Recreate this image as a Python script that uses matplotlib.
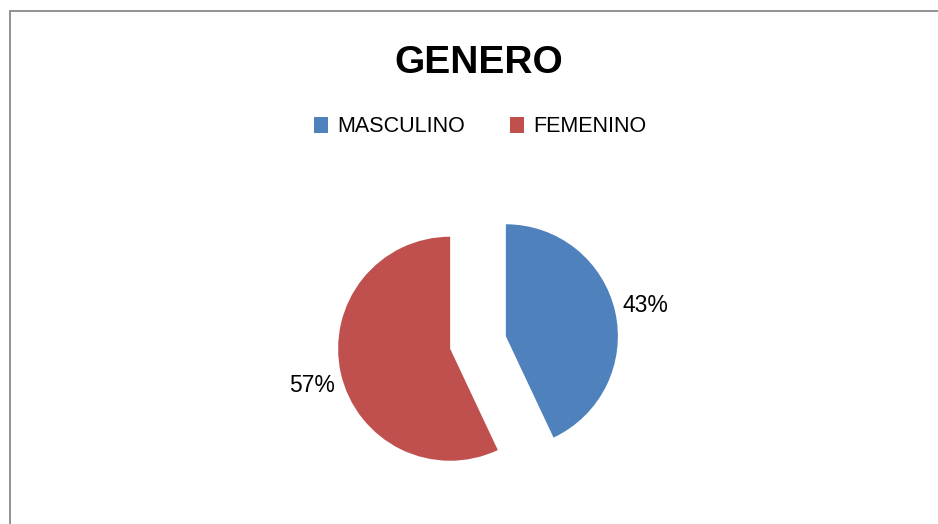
# pie chart de genero (estilo excel, porciones separadas)

import matplotlib
matplotlib.use('Agg')
import matplotlib.pyplot as plt
from matplotlib.patches import Rectangle

categorias = ['MASCULINO', 'FEMENINO']
porcentajes = [43, 57]
colores = ['#4F81BD', '#C0504D']
titulo = 'GENERO'

W, H = 938, 524
plt.rcParams['font.family'] = ['Liberation Sans', 'DejaVu Sans']

fig = plt.figure(figsize=(W / 100, H / 100), dpi=100)

# marco gris del grafico (solo se ve arriba y a la izquierda)
fig.patches.append(Rectangle((9.5 / W, -0.1), 1.2, 1 - 11.5 / H + 0.1,
                             transform=fig.transFigure, fill=False,
                             edgecolor='#898989', linewidth=1.3))

# ejes que cubren toda la figura, radio 1 = 112 px
r_px = 112
cx, cy = 478, 342.5
ax = fig.add_axes([0, 0, 1, 1])
ax.axis('off')

wedges, textos, pct = ax.pie(porcentajes, colors=colores, startangle=90,
                             counterclock=False, explode=[0.255, 0.255],
                             autopct='%d%%', pctdistance=1.6, radius=1,
                             wedgeprops=dict(linewidth=0),
                             textprops=dict(fontsize=16.5, color='black'))
ax.set_xlim(-cx / r_px, (W - cx) / r_px)
ax.set_ylim(-(H - cy) / r_px, cy / r_px)

# posiciones de las etiquetas como en el original
pct[0].set_position(((645 - cx) / r_px, (cy - 305) / r_px))
pct[1].set_position(((312 - cx) / r_px, (cy - 385) / r_px))
for t in pct:
    t.set_ha('center')
    t.set_va('center')

fig.text(478.5 / W, 1 - 63 / H, titulo, ha='center', va='center',
         fontsize=28, fontweight='bold')

fig.legend(wedges, categorias, ncol=2, loc='center',
           bbox_to_anchor=(480.5 / W, 1 - 127 / H), frameon=False,
           fontsize=15.5, handlelength=0.65, handleheight=0.7,
           handletextpad=0.42, columnspacing=2.1)

plt.savefig('out.png', dpi=100)
